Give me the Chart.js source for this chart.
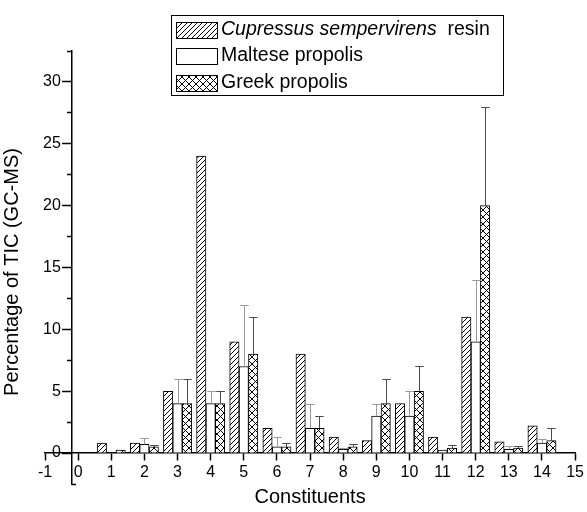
<!DOCTYPE html>
<html>
<head>
<meta charset="utf-8">
<script src="https://cdn.jsdelivr.net/npm/chart.js@4.4.1/dist/chart.umd.min.js"></script>
<style>
  html, body { margin: 0; padding: 0; background: #fff; }
  canvas { display: block; }
</style>
</head>
<body>
<canvas id="chart" width="587" height="512"></canvas>
<script>
// values (percentage of TIC)
const constituents = [1, 2, 3, 4, 5, 6, 7, 8, 9, 10, 11, 12, 13, 14]
const cupressusResin = [0.8, 0.8, 5, 24, 9, 2, 8, 1.3, 1.0, 4, 1.3, 11, 0.9, 2.2]
const maltesePropolis = [0, 0.7, 4, 4, 7, 0.5, 2, 0.3, 3, 3, 0.25, 9, 0.3, 0.8]
const greekPropolis = [0.25, 0.5, 4, 4, 8, 0.5, 2, 0.5, 4, 5, 0.4, 20, 0.4, 1.0]
const malteseError = [0, 0.5, 2, 1, 5, 0.8, 2, 0.15, 1, 2, 0, 5, 0.25, 0.3]
const greekError = [0, 0.15, 2, 1, 3, 0.3, 1, 0.2, 2, 2, 0.25, 8, 0.15, 1]

const seriesLabels = ['Cupressus sempervirens  resin', 'Maltese propolis', 'Greek propolis']
const italicPart = 'Cupressus sempervirens'
const xTitle = 'Constituents'
const yTitle = 'Percentage of TIC (GC-MS)'

const xTicks = [-1, 0, 1, 2, 3, 4, 5, 6, 7, 8, 9, 10, 11, 12, 13, 14, 15]
const yMajorTicks = [0, 5, 10, 15, 20, 25, 30]
const yMinorTicks = [2.5, 7.5, 12.5, 17.5, 22.5, 27.5, 32.5]
const yEndTicks = [-2.5]

const FONT = "'Liberation Sans', Arial, sans-serif"
Chart.defaults.font.family = FONT
Chart.defaults.color = '#000'

function makePattern(cross) {
    const size = cross ? 7 : 5
    const c = document.createElement('canvas')
    c.width = size
    c.height = size
    const g = c.getContext('2d')
    g.fillStyle = '#fff'
    g.fillRect(0, 0, size, size)
    g.strokeStyle = '#000'
    g.lineWidth = 1
    g.beginPath()
    g.moveTo(-1, 1); g.lineTo(1, -1)
    g.moveTo(0, size); g.lineTo(size, 0)
    g.moveTo(size - 1, size + 1); g.lineTo(size + 1, size - 1)
    if (cross) {
        g.moveTo(0, 0); g.lineTo(size, size)
        g.moveTo(-1, size - 1); g.lineTo(1, size + 1)
        g.moveTo(size - 1, -1); g.lineTo(size + 1, 1)
    }
    g.stroke()
    return g.createPattern(c, 'repeat')
}

const hatch = makePattern(false)
const crossHatch = makePattern(true)

// error bars above Maltese / Greek bars
const errorBars = {
    id: 'errorBars',
    afterDatasetsDraw(chart) {
        const ctx = chart.ctx
        const yScale = chart.scales.y
        chart.data.datasets.forEach((ds, di) => {
            if (!ds.errors) return
            const meta = chart.getDatasetMeta(di)
            ctx.save()
            ctx.strokeStyle = ds.errorColor
            ctx.lineWidth = 1
            meta.data.forEach((bar, i) => {
                const err = ds.errors[i]
                if (!err) return
                const top = Math.round(yScale.getPixelForValue(ds.data[i] + err)) + 0.5
                const x = Math.round(bar.x) + 0.5
                const half = bar.width * 0.45
                ctx.beginPath()
                ctx.moveTo(x, bar.y)
                ctx.lineTo(x, top)
                ctx.moveTo(x - half, top)
                ctx.lineTo(x + half, top)
                ctx.stroke()
            })
            ctx.restore()
        })
    }
}

// boxed legend with pattern swatches and italic species name
const boxLegend = {
    id: 'boxLegend',
    afterDraw(chart) {
        const ctx = chart.ctx
        const left = 171, top = 15, width = 332, height = 80
        ctx.save()
        ctx.fillStyle = '#fff'
        ctx.fillRect(left, top, width, height)
        ctx.strokeStyle = '#000'
        ctx.lineWidth = 1
        ctx.strokeRect(left + 0.5, top + 0.5, width, height)
        ctx.textBaseline = 'middle'
        chart.data.datasets.forEach((ds, i) => {
            const rowY = top + 14.5 + i * 26.5
            ctx.fillStyle = ds.backgroundColor
            ctx.fillRect(176, Math.round(rowY - 8), 41, 16)
            ctx.strokeStyle = '#000'
            ctx.strokeRect(176.5, Math.round(rowY - 8) + 0.5, 41, 16)
            ctx.fillStyle = '#000'
            let x = 221
            let text = seriesLabels[i]
            if (text.startsWith(italicPart)) {
                ctx.font = 'italic 19.5px ' + FONT
                ctx.fillText(italicPart, x, rowY)
                x += ctx.measureText(italicPart).width
                text = text.slice(italicPart.length)
            }
            ctx.font = '19.5px ' + FONT
            ctx.fillText(text, x, rowY)
        })
        ctx.restore()
    }
}

const axisTitles = {
    id: 'axisTitles',
    afterDraw(chart) {
        const ctx = chart.ctx
        const area = chart.chartArea
        ctx.save()
        ctx.fillStyle = '#000'
        ctx.font = '20px ' + FONT
        ctx.textAlign = 'center'
        ctx.textBaseline = 'middle'
        ctx.fillText(xTitle, (area.left + area.right) / 2, 497)
        ctx.translate(12, 272)
        ctx.rotate(-Math.PI / 2)
        ctx.fillText(yTitle, 0, 0)
        ctx.restore()
    }
}

const axisFont = { size: 16 }

// y axes share range and position; only tick marks differ
function yAxis(ticks, tickLength, showBorder) {
    return {
        type: 'linear', axis: 'y', min: -2.5, max: 32.5,
        position: { x: -0.2 }, z: 1,
        afterBuildTicks: s => { s.ticks = ticks.map(v => ({ value: v })) },
        afterFit: s => { s.width = 0 },
        grid: { display: true, drawOnChartArea: false, tickLength, tickColor: '#000', tickWidth: 1.5 },
        border: { display: showBorder, color: '#000', width: 1.5 },
        ticks: { display: false }
    }
}

new Chart(document.getElementById('chart').getContext('2d'), {
    type: 'bar',
    data: {
        labels: constituents,
        datasets: [
            { label: seriesLabels[0], data: cupressusResin, backgroundColor: hatch },
            { label: seriesLabels[1], data: maltesePropolis, backgroundColor: '#fff',
              errors: malteseError, errorColor: '#9a9a9a' },
            { label: seriesLabels[2], data: greekPropolis, backgroundColor: crossHatch,
              errors: greekError, errorColor: '#4a4a4a' }
        ]
    },
    options: {
        responsive: false,
        animation: false,
        events: [],
        layout: { padding: { left: 45, right: 9, top: 51, bottom: 28 } },
        datasets: {
            bar: { barThickness: 9.4, borderColor: '#000', borderWidth: 1 }
        },
        plugins: {
            legend: { display: false },
            tooltip: { enabled: false }
        },
        scales: {
            x: {
                type: 'linear', axis: 'x', min: -1, max: 15, offset: false,
                position: { y: 0 }, z: 1,
                afterBuildTicks: s => { s.ticks = xTicks.map(v => ({ value: v })) },
                afterFit: s => { s.height = 0 },
                grid: { display: true, drawOnChartArea: false, tickLength: 7, tickColor: '#000', tickWidth: 1.5, offset: false },
                border: { display: true, color: '#000', width: 1.5 },
                ticks: { autoSkip: false, maxRotation: 0, padding: 3, color: '#000', font: axisFont }
            },
            y: yAxis(yMajorTicks, 9, true),
            y2: yAxis(yMinorTicks, 5, false),
            yEnd: yAxis(yEndTicks, -4, false),
            // tick labels of the y axis, right-aligned just left of its ticks
            yLabels: {
                type: 'linear', axis: 'y', min: -2.5, max: 32.5,
                position: 'left', z: 1,
                afterBuildTicks: s => { s.ticks = yMajorTicks.map(v => ({ value: v })) },
                afterFit: s => { s.width = 0 },
                grid: { display: false, drawTicks: false, tickLength: 0 },
                border: { display: false },
                ticks: { mirror: true, crossAlign: 'far', padding: -2, color: '#000', font: axisFont }
            }
        }
    },
    plugins: [errorBars, boxLegend, axisTitles]
})
</script>
</body>
</html>
